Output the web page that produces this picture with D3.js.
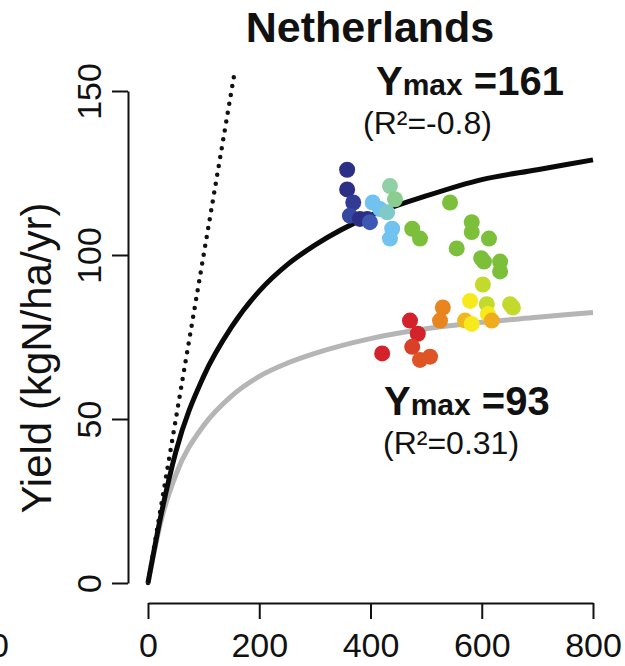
<!DOCTYPE html>
<html>
  <head>
    <meta charset="utf-8" />
    <script src="https://d3js.org/d3.v7.min.js"></script>
    <style>
      body { margin: 0; background: #fff; }
      text { font-family: "Liberation Sans", Arial, sans-serif; fill: #111; }
      .axis path, .axis line { stroke: #111; stroke-width: 2px; }
    </style>
  </head>
  <body>

    <svg id="chart" width="625" height="666"></svg>

    <script>

      // N input (x) and yield (y) for each year
      var nInput = [358, 358, 369, 363, 381, 394, 399, 404, 417, 430, 439, 435, 435, 444,
                    475, 489, 543, 582, 582, 613, 555, 599, 604, 633, 633,
                    602, 609, 651, 656, 579, 611, 570, 582, 618, 530, 525,
                    471, 485, 475, 489, 507, 421];
      var yieldN = [126, 120, 116, 112, 111, 111, 110, 116, 114, 113, 108, 105, 121, 117,
                    108, 105, 116, 110, 107, 105, 102, 99, 98, 98, 95,
                    91, 85, 85, 84, 86, 82, 80, 79, 80, 84, 80,
                    80, 76, 72, 68, 69, 70];
      // position on the colour ramp (0 = dark blue ... 8 = red)
      var stage = [0, 0, 0.3, 0.6, 0, 0, 1, 2, 2, 2.5, 2, 2, 3, 3.2,
                   4, 4, 4, 4, 4, 4, 4, 4, 4, 4, 4,
                   5, 5, 5, 5, 6, 6, 6.5, 6, 6.6, 7, 7,
                   8, 8, 7.7, 7.5, 7.5, 8];

      // fitted curves
      var curveX = [0, 25, 50, 100, 150, 200, 250, 300, 400, 500, 600, 700, 800];
      var fitHigh = [0, 22, 40, 63, 78, 89, 97, 103, 112, 118, 123, 126, 129];
      var fitLow = [0, 20, 33, 48, 57, 63, 67, 70, 74.5, 77.5, 79.5, 81, 82.5];
      var oneToOne = [[0, 0], [155, 155]];

      var xTicks = [0, 200, 400, 600, 800];
      var yTicks = [0, 50, 100, 150];

      var svg = d3.select("#chart");

      var x = d3.scaleLinear().domain([0, 800]).range([148, 593]);
      var y = d3.scaleLinear().domain([0, 150]).range([583, 91]);

      var ramp = d3.scaleLinear()
        .domain([0, 1, 2, 3, 4, 5, 6, 7, 8])
        .range(["#2c2f86", "#3c58b4", "#6fc3ee", "#8fd0a4", "#7bbf3a",
                "#c3d92c", "#f7ea1c", "#e9851f", "#d3222a"]);

      // axes
      var yAxis = svg.append("g")
        .attr("class", "axis")
        .attr("transform", "translate(128,0)")
        .call(d3.axisLeft(y).tickValues(yTicks).tickSize(16).tickSizeOuter(0));

      yAxis.selectAll("text")
        .attr("transform", "rotate(-90)")
        .attr("x", 0)
        .attr("y", -27)
        .attr("dy", 0)
        .style("text-anchor", "middle")
        .style("font-size", "34px");

      var xAxis = svg.append("g")
        .attr("class", "axis")
        .attr("transform", "translate(0,603)")
        .call(d3.axisBottom(x).tickValues(xTicks).tickSize(16).tickSizeOuter(0));

      xAxis.selectAll("text")
        .attr("y", 54)
        .attr("dy", 0)
        .style("font-size", "34px");

      svg.selectAll(".axis text").style("fill", "#111");

      // piece of the neighbouring panel's label
      svg.append("text")
        .attr("x", 9)
        .attr("y", 657)
        .attr("text-anchor", "end")
        .style("font-size", "34px")
        .text("0");

      // y title
      svg.append("text")
        .attr("transform", "translate(51,358) rotate(-90)")
        .attr("text-anchor", "middle")
        .style("font-size", "42px")
        .text("Yield (kgN/ha/yr)");

      // title
      svg.append("text")
        .attr("x", 370)
        .attr("y", 42)
        .attr("text-anchor", "middle")
        .style("font-size", "43px")
        .style("font-weight", "bold")
        .text("Netherlands");

      // 1:1 line
      svg.append("path")
        .datum(oneToOne)
        .attr("d", d3.line().x(function(d) { return x(d[0]); }).y(function(d) { return y(d[1]); }))
        .attr("fill", "none")
        .attr("stroke", "#111")
        .attr("stroke-width", 4.5)
        .attr("stroke-linecap", "round")
        .attr("stroke-dasharray", "0 9");

      var fitLine = d3.line()
        .x(function(d, i) { return x(curveX[i]); })
        .y(function(d) { return y(d); })
        .curve(d3.curveMonotoneX);

      svg.append("path")
        .datum(fitLow)
        .attr("d", fitLine)
        .attr("fill", "none")
        .attr("stroke", "#b5b5b5")
        .attr("stroke-width", 5);

      svg.append("path")
        .datum(fitHigh)
        .attr("d", fitLine)
        .attr("fill", "none")
        .attr("stroke", "#0a0a0a")
        .attr("stroke-width", 5);

      // yearly points
      svg.selectAll(".dot")
        .data(nInput)
        .enter().append("circle")
        .attr("class", "dot")
        .attr("cx", function(d) { return x(d); })
        .attr("cy", function(d, i) { return y(yieldN[i]); })
        .attr("r", 8)
        .attr("fill", function(d, i) { return ramp(stage[i]); });

      // Ymax annotations
      function ymaxLabel(px, py, value, r2, r2x) {
        var t = svg.append("text")
          .attr("x", px)
          .attr("y", py)
          .style("font-weight", "bold")
          .style("font-size", "40px");
        t.append("tspan").text("Y");
        t.append("tspan").style("font-size", "30px").text("max");
        t.append("tspan").text(" =" + value);

        svg.append("text")
          .attr("x", r2x)
          .attr("y", py + 39)
          .style("font-size", "32px")
          .text("(R\u00b2=" + r2 + ")");
      }

      ymaxLabel(376, 95, "161", "-0.8", 363);
      ymaxLabel(384, 415, "93", "0.31", 383);

    </script>

  </body>
</html>
